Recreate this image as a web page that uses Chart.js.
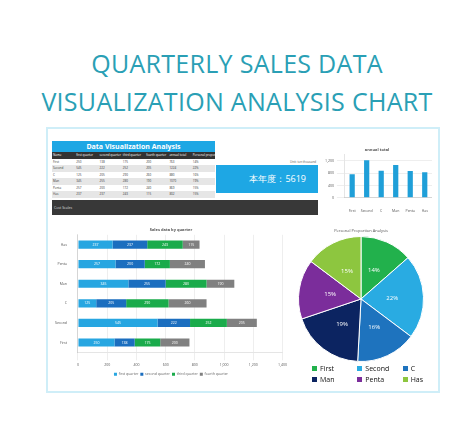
<!DOCTYPE html>
<html><head><meta charset="utf-8">
<script src="https://cdn.jsdelivr.net/npm/chart.js@4"></script>
<style>
body{margin:0;width:474px;height:430px;background:#fff;font-family:"Open Sans",sans-serif;position:relative;overflow:hidden}
.t{position:absolute;left:0;width:474px;text-align:center;color:#2a9fb5;font-size:25px;letter-spacing:0.3px}
#panel{position:absolute;left:46px;top:127px;width:390px;height:262px;border:2px solid #cfeef8;background:#fff}
.abs{position:absolute}
table{border-collapse:collapse;font-size:3px;color:#333;table-layout:fixed}
td,th{padding:0 0 0 1px;height:6.5px;text-align:left;white-space:nowrap;overflow:hidden}
th{background:#333;color:#fff;font-weight:normal}
tr:nth-child(odd) td{background:#e6e6e6}
#leg{font-size:7px;color:#111;display:grid;grid-template-columns:repeat(3,1fr);row-gap:2px;padding-left:16px}
#leg span i{display:inline-block;width:5px;height:5px;margin-right:3px}
</style></head><body>
<div class="t" style="top:46px">QUARTERLY SALES DATA</div>
<div class="t" style="top:84px">VISUALIZATION ANALYSIS CHART</div>
<div id="panel"></div>
<div class="abs" style="left:52px;top:141px;width:163px;height:11px;background:#1ea7e4;color:#fff;font-size:7px;text-align:center;line-height:11px;font-weight:bold">Data Visualization Analysis</div>
<table class="abs" id="tbl" style="left:52px;top:152px;width:163px"></table>
<div class="abs" style="left:290px;top:160px;font-size:3px;color:#555">Unit: ten thousand</div>
<div class="abs" style="left:216px;top:165px;width:102px;height:28px;background:#1ea7e4;color:#fff;font-size:9px;line-height:28px;text-align:right"><span style="margin-right:12px">本年度：5619</span></div>
<div class="abs" style="left:52px;top:200px;width:266px;height:15px;background:#383838;color:#ddd;font-size:3.5px;line-height:15px;padding-left:2px;box-sizing:border-box">Cost Scales</div>
<div class="abs" style="left:322px;top:144px;width:110px;height:72px"><canvas id="c1"></canvas></div>
<div class="abs" style="left:52px;top:224px;width:238px;height:162px"><canvas id="c2"></canvas></div>
<div class="abs" style="left:288px;top:228px;width:146px;height:6px;font-size:4px;color:#555;text-align:center">Personal Proportion Analysis</div>
<div class="abs" style="left:288px;top:234px;width:146px;height:130px"><canvas id="c3"></canvas></div>
<div class="abs" id="leg" style="left:296px;top:364px;width:136px"></div>
<script>
const names=["First","Second","C","Man","Penta","Has"];
const q1=[250,545,125,345,257,237];
const q2=[138,222,205,255,200,237];
const q3=[175,252,290,280,172,243];
const q4=[200,205,260,190,240,115];
const quarterLabels=["first quarter","second quarter","third quarter","fourth quarter"];
const totals=names.map((n,i)=>q1[i]+q2[i]+q3[i]+q4[i]);
const grand=totals.reduce((a,b)=>a+b,0);
const pct=totals.map(t=>Math.round(t/grand*100));
const stackColors=["#27a6e1","#1b6ebf","#1aab4b","#808080"];
const pieColors=["#22b14c","#29abe2","#1e73be","#0c2461","#7b2d9b","#8dc63f"];

let h="<tr><th>Name</th>"+quarterLabels.map(q=>"<th>"+q+"</th>").join("")+"<th>annual total</th><th>Personal proportion</th></tr>";
names.forEach((n,i)=>{h+="<tr><td>"+n+"</td><td>"+q1[i]+"</td><td>"+q2[i]+"</td><td>"+q3[i]+"</td><td>"+q4[i]+"</td><td>"+totals[i]+"</td><td>"+pct[i]+"%</td></tr>";});
document.getElementById("tbl").innerHTML=h;
document.getElementById("leg").innerHTML=names.map((n,i)=>'<span><i style="background:'+pieColors[i]+'"></i>'+n+'</span>').join("");

Chart.defaults.font.family="Open Sans";
Chart.defaults.animation=false;
const small={size:3.5};
new Chart(document.getElementById("c1"),{type:"bar",
 data:{labels:names,datasets:[{data:totals,backgroundColor:"#1f9fd8",barPercentage:0.45}]},
 options:{responsive:true,maintainAspectRatio:false,plugins:{legend:{display:false},title:{display:true,text:"annual total",font:{size:4},color:"#555",padding:3}},
  scales:{x:{grid:{display:false},ticks:{font:small,color:"#555",maxRotation:0,autoSkip:false}},y:{min:0,max:1400,ticks:{stepSize:200,font:small,color:"#555"},grid:{color:"#eee"}}}}});

const valPlugin={id:"vals",afterDatasetsDraw(c){const ctx=c.ctx;ctx.save();ctx.fillStyle="#fff";ctx.font="3.5px Open Sans";ctx.textAlign="center";ctx.textBaseline="middle";
 c.data.datasets.forEach((d,di)=>{c.getDatasetMeta(di).data.forEach((el,i)=>{const p=el.getProps(["x","base","y"],true);ctx.fillText(d.data[i],(p.x+p.base)/2,p.y);});});ctx.restore();}};
const qData=[q1,q2,q3,q4];
new Chart(document.getElementById("c2"),{type:"bar",plugins:[valPlugin],
 data:{labels:names,datasets:qData.map((d,k)=>({label:quarterLabels[k],data:d,backgroundColor:stackColors[k],barPercentage:0.42,categoryPercentage:1}))},
 options:{indexAxis:"y",responsive:true,maintainAspectRatio:false,
  plugins:{legend:{position:"bottom",labels:{font:{size:3.5},boxWidth:3,boxHeight:3,padding:2}},title:{display:true,text:"Sales data by quarter",font:{size:4},color:"#555",padding:3}},
  scales:{y:{stacked:true,reverse:true,grid:{display:false},ticks:{font:small,color:"#555"}},x:{stacked:true,min:0,max:1400,ticks:{stepSize:200,font:small,color:"#555"},grid:{color:"#eee"}}}}});

const pctPlugin={id:"pct",afterDatasetsDraw(c){const ctx=c.ctx;ctx.save();ctx.font="6px Open Sans";ctx.textAlign="center";ctx.textBaseline="middle";ctx.fillStyle="#fff";
 c.getDatasetMeta(0).data.forEach((el,i)=>{const p=el.tooltipPosition();ctx.fillText(pct[i]+"%",p.x,p.y);});ctx.restore();}};
new Chart(document.getElementById("c3"),{type:"pie",plugins:[pctPlugin],
 data:{labels:names,datasets:[{data:totals,backgroundColor:pieColors,borderColor:"#fff",borderWidth:1}]},
 options:{responsive:true,maintainAspectRatio:false,layout:{padding:2},plugins:{legend:{display:false},tooltip:{enabled:false}}}});
</script></body></html>
